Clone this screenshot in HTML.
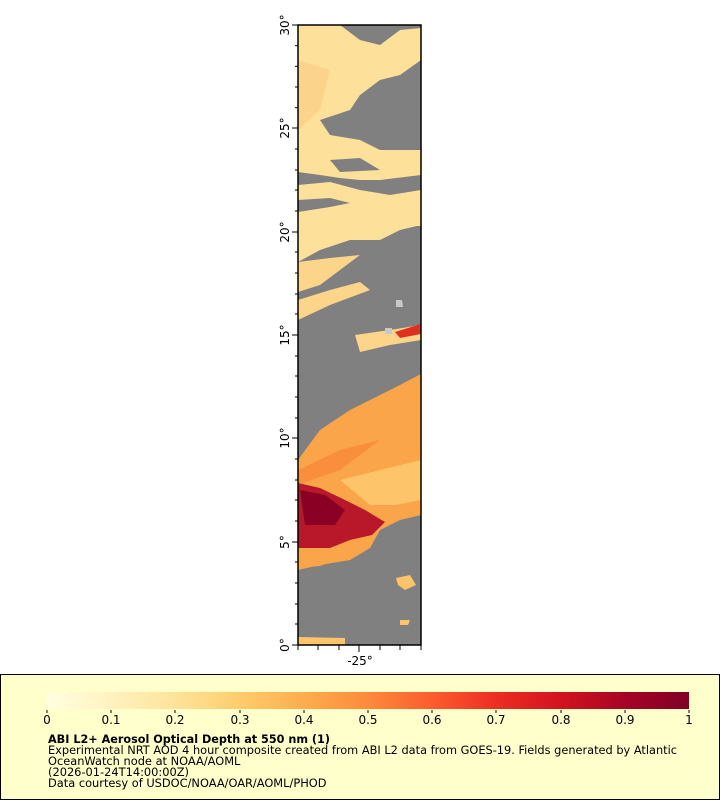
<!DOCTYPE html>
<html><head><meta charset="utf-8"><style>
body{margin:0;background:#fff;width:720px;height:800px;position:relative;font-family:"DejaVu Sans","Liberation Sans",sans-serif;overflow:hidden}
</style></head><body>
<svg width="720" height="800" style="position:absolute;left:0;top:0" font-family="DejaVu Sans, Liberation Sans, sans-serif">
<defs>
<clipPath id="c"><rect x="298" y="25" width="123" height="620"/></clipPath>
<linearGradient id="cb" x1="0" x2="1">
<stop offset="0" stop-color="#ffffe0"/><stop offset="0.1" stop-color="#fff2bf"/><stop offset="0.2" stop-color="#fee39a"/><stop offset="0.3" stop-color="#fecd6c"/><stop offset="0.4" stop-color="#fdad4e"/><stop offset="0.5" stop-color="#fd8a3b"/><stop offset="0.6" stop-color="#fc5c2e"/><stop offset="0.7" stop-color="#ec2e22"/><stop offset="0.8" stop-color="#d2131f"/><stop offset="0.9" stop-color="#a60426"/><stop offset="1" stop-color="#800026"/>
</linearGradient>
</defs>
<g clip-path="url(#c)">
<rect x="298" y="25" width="123" height="620" fill="#808080"/>
<polygon fill="#fde09a" points="298,25 340,25 360,40 380,45 400,30 421,28 421,60 400,75 380,80 360,95 350,110 320,120 330,135 360,140 380,150 421,150 421,175 380,180 360,180 340,178 320,175 298,172"/>
<polygon fill="#fde09a" points="298,185 330,182 360,190 390,195 421,190 421,225 400,230 380,240 350,240 320,250 298,262"/>
<polygon fill="#fde09a" points="298,195 298,240 330,232 370,226 421,226 421,200 380,206 340,205"/>
<polygon fill="#808080" points="298,200 330,198 350,203 330,207 298,212"/>
<polygon fill="#808080" points="330,160 360,158 380,170 340,172"/>
<polygon fill="#fcd38a" points="298,60 330,70 320,110 298,130"/>
<polygon fill="#fdd58a" points="298,262 330,258 360,255 340,270 320,285 298,292"/>
<polygon fill="#fdd58a" points="298,300 330,290 360,282 370,290 330,305 298,320"/>
<polygon fill="#fdd58a" points="355,335 390,330 421,325 421,340 390,345 360,352"/>
<polygon fill="#e03020" points="395,332 421,324 421,334 400,338"/>
<polygon fill="#c8c8c8" points="396,300 402,300 403,307 396,307"/>
<polygon fill="#c8c8c8" points="385,328 392,328 392,334 385,334"/>
<polygon fill="#fba54a" points="298,460 320,430 350,410 380,395 400,385 421,374 421,515 400,520 380,530 370,548 350,560 320,565 298,570"/>
<polygon fill="#fdc46a" points="340,480 380,470 421,460 421,500 395,505 370,505"/>
<polygon fill="#f98f3c" points="298,470 340,450 380,440 340,470 298,485"/>
<polygon fill="#b8182a" points="298,483 320,488 345,500 365,510 385,522 372,535 350,540 330,548 310,550 298,548"/>
<polygon fill="#8a0024" points="300,490 325,495 345,510 335,525 305,525"/>
<polygon fill="#fba54a" points="298,548 330,548 345,556 320,566 298,568"/>
<polygon fill="#fdc46a" points="396,578 410,575 416,585 405,590 398,585"/>
<polygon fill="#fdc46a" points="298,637 345,638 345,645 298,645"/>
<polygon fill="#fdc46a" points="400,620 410,620 408,625 400,625"/>
</g>
<rect x="298" y="25" width="123" height="620" fill="none" stroke="#000" stroke-width="1.5"/>
<g stroke="#000" stroke-width="1">
<line x1="292" y1="25" x2="298" y2="25"/><line x1="292" y1="128" x2="298" y2="128"/><line x1="292" y1="232" x2="298" y2="232"/><line x1="292" y1="335" x2="298" y2="335"/><line x1="292" y1="438" x2="298" y2="438"/><line x1="292" y1="542" x2="298" y2="542"/><line x1="292" y1="645" x2="298" y2="645"/>
<line x1="295" y1="45.7" x2="298" y2="45.7"/><line x1="295" y1="66.3" x2="298" y2="66.3"/><line x1="295" y1="87" x2="298" y2="87"/><line x1="295" y1="107.7" x2="298" y2="107.7"/>
<line x1="295" y1="149" x2="298" y2="149"/><line x1="295" y1="170" x2="298" y2="170"/><line x1="295" y1="190" x2="298" y2="190"/><line x1="295" y1="211" x2="298" y2="211"/>
<line x1="295" y1="252" x2="298" y2="252"/><line x1="295" y1="273" x2="298" y2="273"/><line x1="295" y1="294" x2="298" y2="294"/><line x1="295" y1="314" x2="298" y2="314"/>
<line x1="295" y1="356" x2="298" y2="356"/><line x1="295" y1="376" x2="298" y2="376"/><line x1="295" y1="397" x2="298" y2="397"/><line x1="295" y1="418" x2="298" y2="418"/>
<line x1="295" y1="459" x2="298" y2="459"/><line x1="295" y1="480" x2="298" y2="480"/><line x1="295" y1="500" x2="298" y2="500"/><line x1="295" y1="521" x2="298" y2="521"/>
<line x1="295" y1="562" x2="298" y2="562"/><line x1="295" y1="583" x2="298" y2="583"/><line x1="295" y1="604" x2="298" y2="604"/><line x1="295" y1="624" x2="298" y2="624"/>
<line x1="298" y1="645" x2="298" y2="650"/><line x1="318" y1="645" x2="318" y2="650"/><line x1="339" y1="645" x2="339" y2="650"/><line x1="359" y1="645" x2="359" y2="652"/><line x1="380" y1="645" x2="380" y2="650"/><line x1="400" y1="645" x2="400" y2="650"/><line x1="421" y1="645" x2="421" y2="650"/>
</g>
<g font-size="12" fill="#000">
<text transform="translate(289,25) rotate(-90)" text-anchor="middle">30°</text>
<text transform="translate(289,128) rotate(-90)" text-anchor="middle">25°</text>
<text transform="translate(289,232) rotate(-90)" text-anchor="middle">20°</text>
<text transform="translate(289,335) rotate(-90)" text-anchor="middle">15°</text>
<text transform="translate(289,438) rotate(-90)" text-anchor="middle">10°</text>
<text transform="translate(289,542) rotate(-90)" text-anchor="middle">5°</text>
<text transform="translate(289,645) rotate(-90)" text-anchor="middle">0°</text>
<text x="360" y="665" text-anchor="middle">-25°</text>
</g>
<rect x="0.5" y="674.5" width="719" height="125" fill="#ffffcc" stroke="#000"/>
<rect x="47" y="692" width="642" height="17" fill="url(#cb)"/>
<g stroke="#000">
<line x1="47" y1="710" x2="47" y2="713"/><line x1="111" y1="710" x2="111" y2="713"/><line x1="175" y1="710" x2="175" y2="713"/><line x1="240" y1="710" x2="240" y2="713"/><line x1="304" y1="710" x2="304" y2="713"/><line x1="368" y1="710" x2="368" y2="713"/><line x1="432" y1="710" x2="432" y2="713"/><line x1="496" y1="710" x2="496" y2="713"/><line x1="561" y1="710" x2="561" y2="713"/><line x1="625" y1="710" x2="625" y2="713"/><line x1="689" y1="710" x2="689" y2="713"/>
</g>
<g font-size="12" fill="#000" text-anchor="middle">
<text x="47" y="724">0</text><text x="111" y="724">0.1</text><text x="175" y="724">0.2</text><text x="240" y="724">0.3</text><text x="304" y="724">0.4</text><text x="368" y="724">0.5</text><text x="432" y="724">0.6</text><text x="496" y="724">0.7</text><text x="561" y="724">0.8</text><text x="625" y="724">0.9</text><text x="689" y="724">1</text>
</g>
<g font-size="11.4" fill="#000">
<text x="48" y="743" font-weight="bold" textLength="282" lengthAdjust="spacingAndGlyphs">ABI L2+ Aerosol Optical Depth at 550 nm (1)</text>
<text x="48" y="754" textLength="629" lengthAdjust="spacingAndGlyphs">Experimental NRT AOD 4 hour composite created from ABI L2 data from GOES-19. Fields generated by Atlantic</text>
<text x="48" y="765">OceanWatch node at NOAA/AOML</text>
<text x="48" y="776">(2026-01-24T14:00:00Z)</text>
<text x="48" y="787">Data courtesy of USDOC/NOAA/OAR/AOML/PHOD</text>
</g>
</svg>
</body></html>
